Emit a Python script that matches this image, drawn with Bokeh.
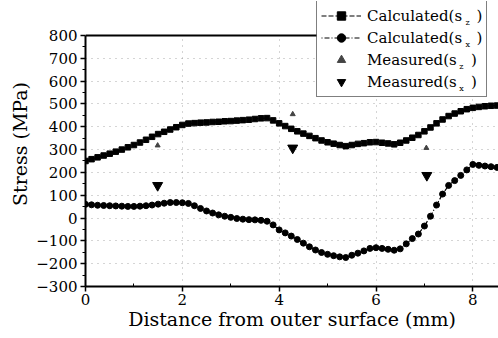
from bokeh.plotting import figure
from bokeh.models import FixedTicker, Legend, LegendItem, Range1d, Span, BoxAnnotation
from bokeh.core.properties import value
from bokeh.embed import file_html
from bokeh.resources import INLINE

# ---------------- data ----------------
depth = [0, 0.125, 0.25, 0.375, 0.5, 0.625, 0.75, 0.875, 1.0, 1.125, 1.25, 1.375,
         1.5, 1.625, 1.75, 1.875, 2.0, 2.125, 2.25, 2.375, 2.5, 2.625, 2.75, 2.875,
         3.0, 3.125, 3.25, 3.375, 3.5, 3.625, 3.75, 3.875, 4.0, 4.125, 4.25, 4.375,
         4.5, 4.625, 4.75, 4.875, 5.0, 5.125, 5.25, 5.375, 5.5, 5.625, 5.75, 5.875,
         6.0, 6.125, 6.25, 6.375, 6.5, 6.625, 6.75, 6.875, 7.0, 7.125, 7.25, 7.375,
         7.5, 7.625, 7.75, 7.875, 8.0, 8.125, 8.25, 8.375, 8.5]

calc_sz = [250, 258, 266, 274, 282, 291, 300, 310, 320, 331, 343, 356,
           368, 378, 388, 398, 408, 414, 416, 418, 419, 421, 422, 424,
           425, 427, 429, 431, 434, 437, 438, 428, 415, 403, 391, 380,
           370, 360, 350, 340, 332, 326, 320, 315, 320, 325, 328, 332,
           333, 330, 327, 323, 330, 340, 352, 364, 380, 397, 415, 432,
           447, 458, 468, 477, 483, 487, 490, 492, 493]

calc_sx = [60, 58, 56, 55, 54, 53, 52, 51, 51, 52, 54, 57,
           61, 65, 68, 68, 67, 64, 54, 42, 31, 22, 14, 8,
           3, -2, -5, -7, -8, -10, -14, -30, -52, -65, -79, -94,
           -110, -126, -140, -151, -159, -165, -170, -173, -163, -154, -144, -133,
           -130, -133, -137, -141, -135, -113, -90, -70, -35, 8, 57, 105,
           143, 164, 187, 211, 235, 231, 228, 225, 222]

meas_depth_z = [1.49, 4.28, 7.04]
meas_sz = [318, 455, 307]
meas_depth_x = [1.49, 4.28, 7.05]
meas_sx = [143, 307, 187]

y_ticks = [-300, -200, -100, 0, 100, 200, 300, 400, 500, 600, 700, 800]
y_minor = [-250, -150, -50, 50, 150, 250, 350, 450, 550, 650, 750]
x_ticks = [0, 2, 4, 6, 8]
x_minor = [1, 3, 5, 7]

legend_labels = ["Calculated(s   )", "Calculated(s   )", "Measured(s   )", "Measured(s   )"]
legend_subs = ["z", "x", "z", "x"]

FONT = "DejaVu Serif"

# the frame reaches above the 800 MPa line so that the legend (which overhangs
# the top of the axes box in the reference) is not clipped
p = figure(width=498, height=338, output_backend="svg", toolbar_location=None,
           x_range=Range1d(0, 8.53), y_range=Range1d(-300, 949),
           min_border_left=85, min_border_top=1, min_border_bottom=52,
           min_border_right=0)

p.outline_line_color = None
p.background_fill_color = "white"
p.border_fill_color = "white"

for g in (p.xgrid[0], p.ygrid[0]):
    g.grid_line_color = "#888888"
    g.grid_line_dash = "1 5"
    g.grid_line_alpha = 0.7

# blank area above the axes box, its top edge at 800 MPa, and the legend's white panel
p.add_layout(BoxAnnotation(bottom=800, fill_color="white", fill_alpha=1.0,
                           line_color=None, level="underlay"))
p.add_layout(Span(location=800, dimension="width", line_color="black", line_width=2,
                  level="underlay"))
p.add_layout(BoxAnnotation(left=4.77, bottom=528, fill_color="white", fill_alpha=1.0,
                           line_color=None, level="underlay"))

p.xaxis.ticker = FixedTicker(ticks=x_ticks, minor_ticks=x_minor)
p.yaxis.ticker = FixedTicker(ticks=y_ticks, minor_ticks=y_minor)
p.yaxis.bounds = (-300, 800)
p.yaxis.major_label_overrides = {t: (str(t).replace("-", "\u2212")) for t in y_ticks}

for ax in (p.xaxis[0], p.yaxis[0]):
    ax.axis_line_width = 2
    ax.axis_line_color = "black"
    ax.major_tick_line_color = "black"
    ax.minor_tick_line_color = "black"
    ax.major_tick_line_width = 1.5
    ax.major_label_text_font = FONT
    ax.major_label_text_font_size = "15px"
    ax.major_label_text_color = "black"
    ax.axis_label_text_font = FONT
    ax.axis_label_text_font_size = "19px"
    ax.axis_label_text_font_style = "normal"
    ax.axis_label_text_color = "black"

p.yaxis.major_tick_out = 5
p.yaxis.major_tick_in = 0
p.yaxis.minor_tick_out = 3
p.yaxis.minor_tick_in = 0
p.yaxis.major_label_standoff = 3
p.xaxis.major_tick_out = 5
p.xaxis.major_tick_in = 0
p.xaxis.minor_tick_out = 0
p.xaxis.minor_tick_in = 3
p.xaxis.major_label_standoff = 2

p.xaxis.axis_label = "Distance from outer surface (mm)"
p.yaxis.axis_label = "Stress (MPa)"
p.xaxis.axis_label_standoff = 0
p.yaxis.axis_label_standoff = 2

# calculated series
lz = p.line(depth, calc_sz, line_color="black", line_width=1.2, line_dash="5 2")
sz = p.scatter(depth, calc_sz, marker="square", size=5.5, fill_color="black", line_color="black")
lx = p.line(depth, calc_sx, line_color="black", line_width=1.2, line_dash="1 2 5 2")
sx = p.scatter(depth, calc_sx, marker="circle", size=6, fill_color="black", line_color="black")

# measured
mz = p.scatter(meas_depth_z, meas_sz, marker="triangle", size=5, fill_color="#444444", line_color="#444444")
mx = p.scatter(meas_depth_x, meas_sx, marker="inverted_triangle", size=10, fill_color="black", line_color="black")

# subscripts of the legend labels (text glyphs in data coordinates)
sub_x = [7.85, 7.85, 7.72, 7.72]
sub_y = [857, 761, 664, 568]
p.text(x=sub_x, y=sub_y, text=legend_subs, text_font=value(FONT), text_font_size="8px",
       text_color="black", text_baseline="middle", text_align="left")

legend = Legend(items=[
    LegendItem(label=legend_labels[0], renderers=[lz, sz]),
    LegendItem(label=legend_labels[1], renderers=[lx, sx]),
    LegendItem(label=legend_labels[2], renderers=[mz]),
    LegendItem(label=legend_labels[3], renderers=[mx]),
], location=(231, 189))
legend.label_text_font = FONT
legend.label_text_font_size = "15px"
legend.label_text_color = "black"
legend.border_line_color = "black"
legend.border_line_width = 1
legend.background_fill_alpha = 0
legend.glyph_width = 40
legend.glyph_height = 21
legend.label_height = 21
legend.spacing = 1
legend.padding = 4
legend.margin = 0
legend.label_standoff = 6
p.add_layout(legend, "center")

out = file_html(p, INLINE)
open("out.html", "w").write(out)
